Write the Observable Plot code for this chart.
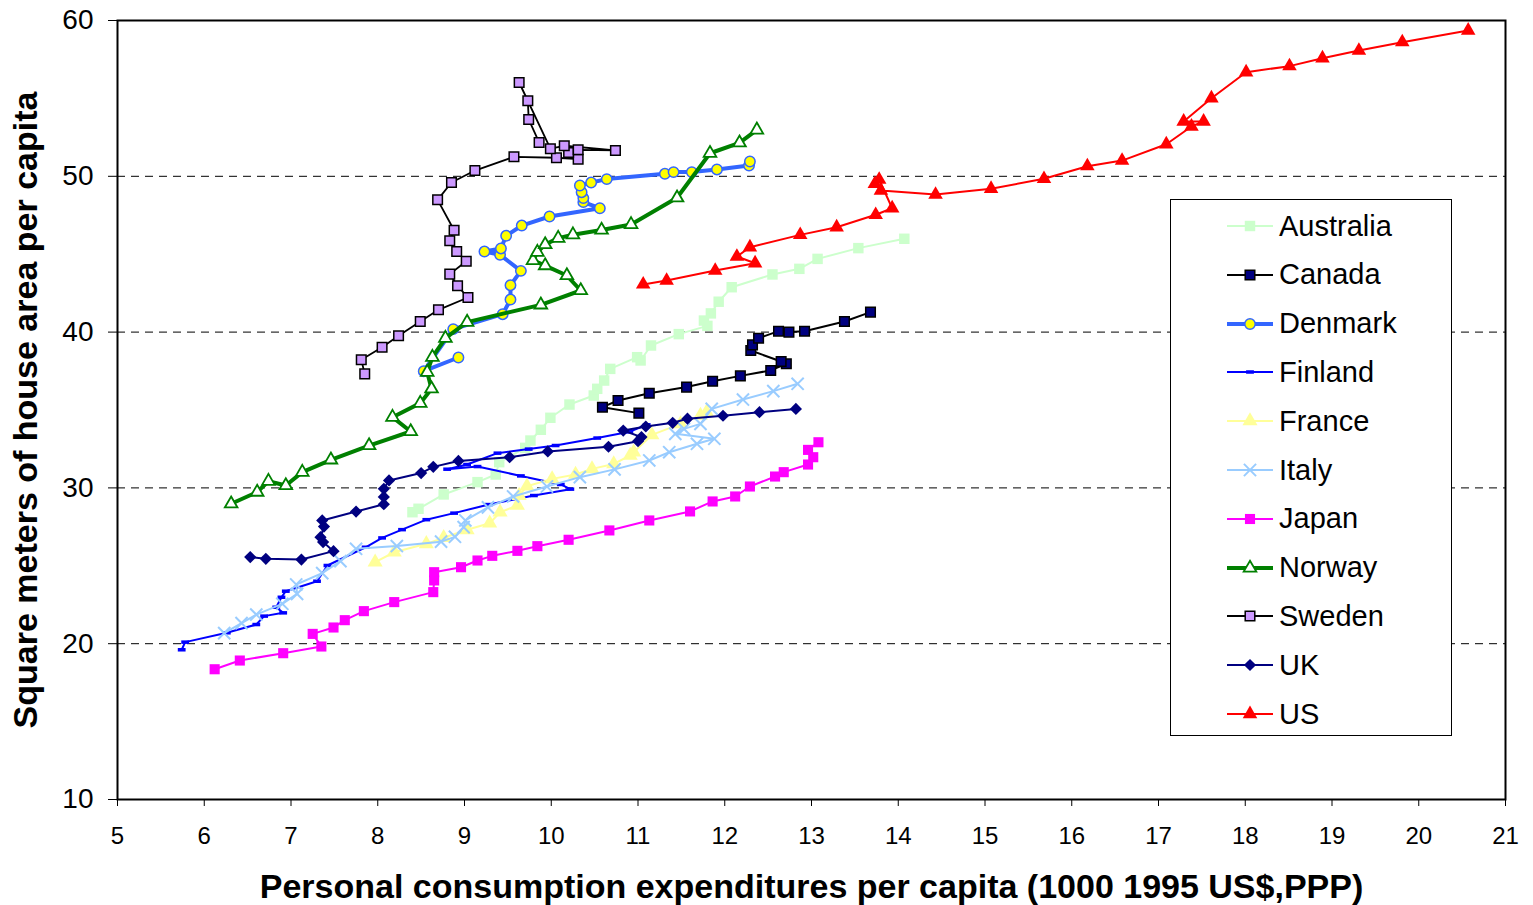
<!DOCTYPE html>
<html>
<head>
<meta charset="utf-8">
<script src="https://cdn.jsdelivr.net/npm/d3@7"></script>
<script src="https://cdn.jsdelivr.net/npm/@observablehq/plot@0.6"></script>
<style>
  html, body { margin: 0; padding: 0; background: #fff; }
  #wrap { position: relative; width: 1533px; height: 905px; font-family: "Liberation Sans", Arial, sans-serif; }
  #legend { position: absolute; left: 1170px; top: 199px; width: 282px; height: 537px; border: 1px solid #000; background: #fff; box-sizing: border-box; }
  .row { position: absolute; left: 56px; height: 40px; display: flex; align-items: center; white-space: nowrap; }
  .row span { font-size: 29px; color: #000; margin-left: 6px; }
</style>
</head>
<body>
<div id="wrap"></div>
<script>
// ---------- data: [consumption (1000 1995 US$ PPP), m2 per capita] ----------
const australia = [[8.40,28.44],[8.47,28.66],[8.76,29.58],[9.15,30.37],[9.36,30.86],[9.40,31.65],[9.70,32.57],[9.76,33.04],[9.88,33.73],[9.99,34.50],[10.21,35.35],[10.49,35.93],[10.53,36.36],[10.61,36.89],[10.68,37.64],[10.99,38.39],[11.03,38.18],[11.15,39.14],[11.47,39.87],[11.80,40.40],[11.76,40.74],[11.84,41.20],[11.93,41.95],[12.08,42.88],[12.55,43.70],[12.86,44.06],[13.07,44.70],[13.54,45.39],[14.07,45.99]];
const canada = [[11.01,34.80],[10.59,35.18],[10.77,35.61],[11.13,36.08],[11.56,36.47],[11.86,36.85],[12.18,37.19],[12.53,37.54],[12.71,37.97],[12.65,38.11],[12.30,38.82],[12.32,39.18],[12.39,39.61],[12.62,40.06],[12.74,40.00],[12.92,40.06],[13.38,40.68],[13.68,41.28]];
const denmark = [[8.93,38.37],[8.53,37.49],[8.87,40.19],[9.44,41.15],[9.53,42.09],[9.53,43.01],[9.65,43.93],[9.41,44.96],[9.23,45.17],[9.42,45.37],[9.48,46.18],[9.66,46.84],[9.98,47.42],[10.56,47.95],[10.37,48.34],[10.37,48.60],[10.35,48.98],[10.33,49.41],[10.46,49.60],[10.64,49.82],[11.31,50.16],[11.41,50.27],[11.62,50.27],[11.91,50.44],[12.28,50.69],[12.29,50.95]];
const finland = [[5.74,19.61],[5.78,20.10],[6.26,20.70],[6.60,21.23],[6.69,21.77],[6.91,21.98],[6.83,22.34],[6.89,22.98],[6.94,23.37],[7.30,24.01],[7.42,25.02],[7.86,26.19],[8.05,26.79],[8.28,27.32],[8.56,27.96],[8.88,28.38],[9.28,28.93],[9.80,29.51],[10.22,29.92],[10.11,30.22],[9.65,30.77],[9.15,31.37],[8.80,31.20],[9.03,31.50],[9.38,32.23],[9.74,32.49],[10.05,32.72],[10.53,33.20],[10.90,33.60],[11.10,34.05]];
const france = [[7.97,25.23],[8.19,25.87],[8.56,26.41],[8.76,26.80],[9.03,27.31],[9.29,27.73],[9.41,28.44],[9.61,28.87],[9.63,29.51],[9.72,30.11],[10.01,30.58],[10.28,30.86],[10.47,31.22],[10.72,31.54],[10.91,32.08],[10.95,32.29],[11.16,33.40],[11.49,34.11],[11.72,34.65],[11.79,34.86]];
const italy = [[6.23,20.68],[6.43,21.32],[6.60,21.87],[6.90,22.56],[7.07,23.20],[7.06,23.80],[7.36,24.53],[7.57,25.30],[7.75,26.09],[8.22,26.27],[8.73,26.55],[8.89,26.86],[8.99,27.48],[9.01,27.91],[9.27,28.75],[9.56,29.45],[9.95,30.09],[10.33,30.69],[10.73,31.19],[11.13,31.76],[11.36,32.29],[11.68,32.83],[11.88,33.15],[11.43,33.47],[11.53,33.79],[11.72,34.11],[11.85,35.07],[12.21,35.67],[12.56,36.21],[12.84,36.68]];
const japan = [[6.12,18.36],[6.41,18.92],[6.91,19.39],[7.35,19.82],[7.25,20.63],[7.49,21.04],[7.62,21.51],[7.84,22.09],[8.19,22.67],[8.64,23.31],[8.65,24.06],[8.65,24.59],[8.96,24.91],[9.15,25.34],[9.32,25.64],[9.61,25.96],[9.84,26.26],[10.20,26.67],[10.67,27.27],[11.13,27.91],[11.60,28.49],[11.86,29.13],[12.12,29.45],[12.29,30.09],[12.58,30.73],[12.68,31.01],[12.96,31.50],[13.02,31.97],[12.96,32.44],[13.08,32.93]];
const norway = [[6.31,28.98],[6.61,29.73],[6.74,30.43],[6.94,30.15],[7.13,31.01],[7.46,31.80],[7.90,32.72],[8.38,33.62],[8.17,34.54],[8.49,35.44],[8.62,36.36],[8.57,37.43],[8.63,38.39],[8.78,39.61],[9.03,40.64],[9.88,41.75],[10.34,42.67],[10.18,43.63],[9.93,44.27],[9.79,44.60],[9.84,45.13],[9.93,45.62],[10.08,46.03],[10.25,46.25],[10.58,46.55],[10.92,46.91],[11.45,48.62],[11.83,51.48],[12.17,52.15],[12.37,52.98]];
const sweden = [[7.85,37.32],[7.81,38.22],[8.05,39.03],[8.24,39.76],[8.49,40.68],[8.70,41.43],[9.04,42.22],[8.92,42.97],[8.83,43.72],[9.02,44.55],[8.91,45.17],[8.83,45.86],[8.88,46.54],[8.69,48.49],[8.85,49.60],[9.12,50.37],[9.57,51.25],[10.06,51.19],[10.31,51.10],[10.20,51.53],[10.31,51.70],[10.74,51.66],[10.15,51.96],[9.99,51.77],[9.63,56.02],[9.73,54.85],[9.74,53.65],[9.86,52.17]];
const uk = [[6.53,25.56],[6.71,25.45],[7.12,25.40],[7.49,25.94],[7.37,26.52],[7.34,26.84],[7.38,27.52],[7.36,27.91],[7.75,28.48],[8.07,28.95],[8.07,29.42],[8.07,29.94],[8.13,30.48],[8.50,30.95],[8.64,31.35],[8.93,31.73],[9.52,31.97],[9.96,32.34],[10.66,32.64],[11.00,33.00],[11.04,33.26],[10.83,33.68],[11.09,33.94],[11.40,34.18],[11.57,34.44],[11.98,34.63],[12.40,34.86],[12.82,35.07]];
const us = [[11.06,43.06],[11.33,43.31],[11.89,43.95],[12.35,44.42],[12.14,44.85],[12.29,45.45],[12.87,46.24],[13.29,46.73],[13.74,47.53],[13.93,47.95],[13.78,49.79],[13.73,49.52],[13.80,49.09],[14.43,48.83],[15.07,49.20],[15.68,49.84],[16.18,50.65],[16.58,51.01],[17.09,52.06],[17.38,53.20],[17.52,53.52],[17.29,53.52],[17.61,55.01],[18.01,56.68],[18.51,57.07],[18.89,57.58],[19.31,58.07],[19.81,58.61],[20.57,59.36]];

const countryNames = ["Australia","Canada","Denmark","Finland","France","Italy","Japan","Norway","Sweden","UK","US"];
const xTicks = [5,6,7,8,9,10,11,12,13,14,15,16,17,18,19,20,21];
const yTicks = [10,20,30,40,50,60];
const gridLines = [20,30,40,50];
const xTitle = "Personal consumption expenditures per capita (1000 1995 US$,PPP)";
const yTitle = "Square meters of house area per capita";

// ---------- styles ----------
const dashSymbol = { draw(ctx, size) { const w = Math.sqrt(size); ctx.rect(-w, -w * 0.45, 2 * w, w * 0.9); } };
const seriesData = [australia, canada, denmark, finland, france, italy, japan, norway, sweden, uk, us];
const styles = [
  {line:"#ccffcc", lw:2,   sym:"square",   r:5.9, fill:"#ccffcc", ms:"none",    msw:0},
  {line:"#000000", lw:2,   sym:"square",   r:5.4, fill:"#000080", ms:"#000000", msw:1.5},
  {line:"#3366ff", lw:4,   sym:"circle",   r:5.2, fill:"#ffff00", ms:"#3366ff", msw:1.5},
  {line:"#0000ff", lw:2,   sym:dashSymbol, r:2.2, fill:"#0000ff", ms:"none",    msw:0},
  {line:"#ffff99", lw:2,   sym:"triangle", r:5.6, fill:"#ffff99", ms:"none",    msw:0},
  {line:"#99ccff", lw:2,   sym:"times",    r:5.6, fill:"none",    ms:"#99ccff", msw:2},
  {line:"#ff00ff", lw:2,   sym:"square",   r:5.7, fill:"#ff00ff", ms:"none",    msw:0},
  {line:"#008000", lw:4,   sym:"triangle", r:4.7, fill:"#ffffff", ms:"#008000", msw:1.8},
  {line:"#000000", lw:1.8, sym:"square",   r:5.4, fill:"#cc99ff", ms:"#000000", msw:1.5},
  {line:"#000080", lw:2,   sym:"diamond2", r:5.5, fill:"#000080", ms:"none",    msw:0},
  {line:"#ff0000", lw:2,   sym:"triangle", r:5.4, fill:"#ff0000", ms:"none",    msw:0}
];

const marks = [
  Plot.ruleY(gridLines, {stroke: "#000", strokeWidth: 1, strokeDasharray: "8,6"})
];
seriesData.forEach((data, i) => {
  const s = styles[i];
  marks.push(Plot.line(data, {x: d => d[0], y: d => d[1], stroke: s.line, strokeWidth: s.lw, strokeLinejoin: "round"}));
  marks.push(Plot.dot(data, {x: d => d[0], y: d => d[1], symbol: s.sym, r: s.r, fill: s.fill, stroke: s.ms, strokeWidth: s.msw}));
});
marks.push(
  Plot.frame({stroke: "#000", strokeWidth: 2}),
  Plot.axisX({ticks: xTicks, tickSize: 7, tickPadding: 20, fontSize: 24, label: null, tickFormat: d => String(d)}),
  Plot.axisY({ticks: yTicks, tickSize: 9, tickPadding: 15, fontSize: 28, label: null, tickFormat: d => String(d)}),
  Plot.text([xTitle], {text: d => d, frameAnchor: "bottom", dy: 88, fontSize: 34, fontWeight: "bold", textAnchor: "middle", lineAnchor: "middle"}),
  Plot.text([yTitle], {text: d => d, frameAnchor: "left", dx: -91, rotate: -90, fontSize: 34, fontWeight: "bold", textAnchor: "middle", lineAnchor: "middle"})
);

const chart = Plot.plot({
  width: 1533,
  height: 905,
  marginLeft: 117,
  marginRight: 28,
  marginTop: 20,
  marginBottom: 106,
  x: {domain: [5, 21]},
  y: {domain: [10, 60]},
  style: {fontFamily: "'Liberation Sans', Arial, sans-serif", background: "#fff", color: "#000", overflow: "visible"},
  marks
});

const wrap = document.getElementById("wrap");
wrap.appendChild(chart);

// ---------- legend (HTML overlay) ----------
const legend = document.createElement("div");
legend.id = "legend";
wrap.appendChild(legend);
countryNames.forEach((name, i) => {
  const s = styles[i];
  const row = document.createElement("div");
  row.className = "row";
  row.style.top = (225 + i * 48.8 - 199 - 20) + "px";
  const svg = d3.create("svg").attr("width", 46).attr("height", 20);
  svg.append("line").attr("x1", 0).attr("x2", 46).attr("y1", 10).attr("y2", 10)
    .attr("stroke", s.line).attr("stroke-width", s.lw);
  const symType = typeof s.sym === "string" ? Plot.scale({symbol: {domain: [0], range: [s.sym]}}).apply(0) : s.sym;
  const r = s.r;
  svg.append("path").attr("transform", "translate(23,10)")
    .attr("d", d3.symbol(symType, r * r * Math.PI)())
    .attr("fill", s.fill).attr("stroke", s.ms).attr("stroke-width", s.msw);
  row.appendChild(svg.node());
  const span = document.createElement("span");
  span.textContent = name;
  row.appendChild(span);
  legend.appendChild(row);
});
</script>
</body>
</html>
